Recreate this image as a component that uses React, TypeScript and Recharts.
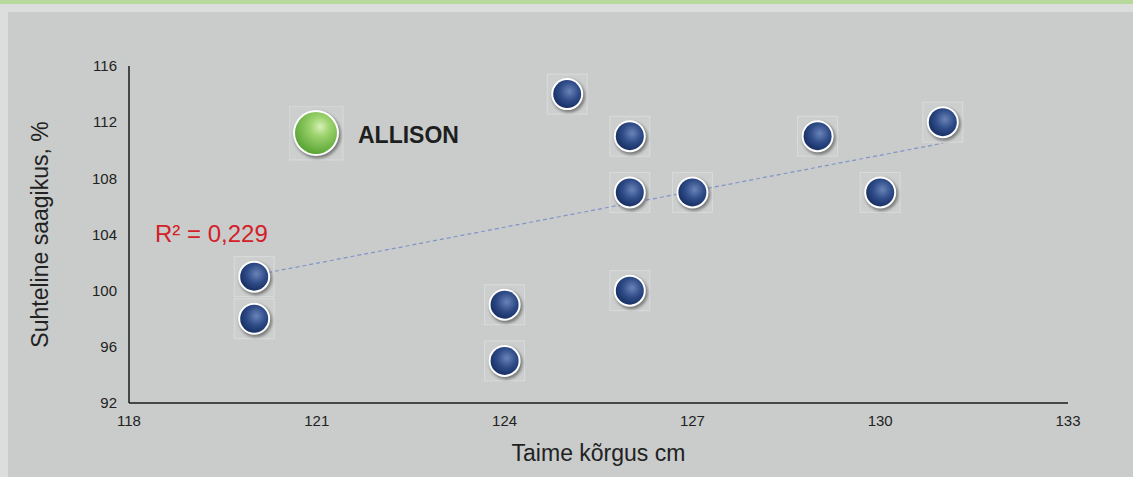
import React from 'react'
import { ScatterChart, Scatter, XAxis, YAxis } from 'recharts'

// plant height (cm) vs relative yield (%)
const heights = [120, 120, 124, 124, 125, 126, 126, 126, 127, 129, 130, 131]
const yields = [101, 98, 95, 99, 114, 111, 107, 100, 107, 111, 107, 112]
const trendX = [120, 131]
const trendY = [101.1, 110.5]
const xTicks = [118, 121, 124, 127, 130, 133]
const yTicks = [92, 96, 100, 104, 108, 112, 116]

const points = heights.map((h, i) => ({ x: h, y: yields[i] }))
const trend = trendX.map((x, i) => ({ x, y: trendY[i] }))

const FONT = '"Liberation Sans", Arial, sans-serif'

const Ball = ({ cx, cy, r = 16, grad = 'blueBall' }) => (
  <g>
    <rect
      x={cx - r - 4}
      y={cy - r - 4}
      width={(r + 4) * 2}
      height={(r + 4) * 2}
      fill="rgba(255,255,255,0.06)"
      stroke="rgba(255,255,255,0.3)"
      strokeWidth={1}
    />
    <circle cx={cx + 1.5} cy={cy + 2} r={r + 0.5} fill="rgba(0,0,0,0.4)" filter="url(#ballShadow)" />
    <circle cx={cx} cy={cy} r={r} fill="#ffffff" />
    <circle cx={cx} cy={cy} r={r - 2} fill={`url(#${grad})`} />
  </g>
)

const DotShape = (props) => <Ball cx={props.cx} cy={props.cy} />

export default function App() {
  return (
    <div style={{ position: 'absolute', left: 0, top: 0, width: 1133, height: 477, background: '#dcdede', overflow: 'hidden' }}>
      <svg width={0} height={0} style={{ position: 'absolute' }}>
        <defs>
          <radialGradient id="blueBall" cx="58%" cy="40%" r="62%">
            <stop offset="0%" stopColor="#6a84b8" />
            <stop offset="55%" stopColor="#2f4c88" />
            <stop offset="100%" stopColor="#172f63" />
          </radialGradient>
          <radialGradient id="greenBall" cx="60%" cy="35%" r="65%">
            <stop offset="0%" stopColor="#d6f0b8" />
            <stop offset="35%" stopColor="#9ed36e" />
            <stop offset="100%" stopColor="#5aa636" />
          </radialGradient>
          <filter id="ballShadow" x="-50%" y="-50%" width="200%" height="200%">
            <feGaussianBlur stdDeviation="1.5" />
          </filter>
        </defs>
      </svg>
      <div style={{ position: 'absolute', left: 0, top: 0, width: 1133, height: 4, background: '#b7d99b' }} />
      <div style={{ position: 'absolute', left: 8, top: 12, width: 1125, height: 465, background: '#c9cccb' }} />
      <div style={{ position: 'absolute', left: 0, top: 0 }}>
        <ScatterChart width={1133} height={477} margin={{ top: 66, right: 65, bottom: 14, left: 69 }}>
          <XAxis
            type="number"
            dataKey="x"
            domain={[118, 133]}
            ticks={xTicks}
            height={60}
            axisLine={{ stroke: '#1a1a1a', strokeWidth: 1.5 }}
            tickLine={false}
            tickMargin={6}
            fontSize={15}
            tick={{ fill: '#222', fontSize: 15, fontFamily: FONT }}
            label={{
              content: () => (
                <text x={598.5} y={461} textAnchor="middle" fontSize={23} fill="#222" fontFamily={FONT}>
                  Taime kõrgus cm
                </text>
              ),
            }}
          />
          <YAxis
            type="number"
            dataKey="y"
            domain={[92, 116]}
            ticks={yTicks}
            width={60}
            axisLine={{ stroke: '#1a1a1a', strokeWidth: 1.5 }}
            tickLine={false}
            tickMargin={6}
            fontSize={15}
            tick={{ fill: '#222', fontSize: 15, fontFamily: FONT }}
            label={{
              content: () => (
                <text
                  x={48}
                  y={234.5}
                  transform="rotate(-90 48 234.5)"
                  textAnchor="middle"
                  fontSize={23}
                  fill="#222"
                  fontFamily={FONT}
                >
                  Suhteline saagikus, %
                </text>
              ),
            }}
          />
          <Scatter
            data={trend}
            line={{ stroke: '#8094c8', strokeWidth: 1.2, strokeDasharray: '4 3' }}
            shape={() => <g />}
            legendType="none"
            isAnimationActive={false}
          />
          <Scatter data={points} shape={DotShape} isAnimationActive={false} />
        </ScatterChart>
      </div>
      <div style={{ position: 'absolute', left: 289, top: 106, display: 'flex', alignItems: 'center', fontFamily: FONT }}>
        <svg width={58} height={58}>
          <Ball cx={27} cy={27} r={23} grad="greenBall" />
        </svg>
        <span style={{ marginLeft: 11, fontSize: 23, fontWeight: 'bold', color: '#1e1e1e' }}>ALLISON</span>
      </div>
      <div
        style={{
          position: 'absolute',
          left: 155,
          top: 220,
          fontFamily: FONT,
          fontSize: 24,
          color: '#d42027',
          lineHeight: '28px',
        }}
      >
        R² = 0,229
      </div>
    </div>
  )
}
